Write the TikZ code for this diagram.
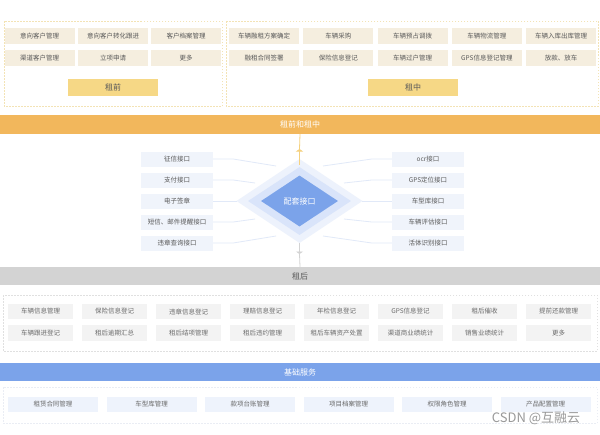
\documentclass[tikz,border=0pt]{standalone}
\usepackage{fontspec}
\setmainfont{Noto Sans CJK SC}
\usetikzlibrary{shapes.geometric,arrows.meta}
\definecolor{cellbeige}{HTML}{F5EEDF}
\definecolor{btnyellow}{HTML}{F6D886}
\definecolor{dashyellow}{HTML}{F3E3B5}
\definecolor{bandorange}{HTML}{F2B75C}
\definecolor{bandgray}{HTML}{D3D3D3}
\definecolor{cellgray}{HTML}{F3F3F3}
\definecolor{dashgray}{HTML}{E0E0E0}
\definecolor{bandblue}{HTML}{7BA3EA}
\definecolor{cellblue}{HTML}{EEF3FC}
\definecolor{ifaceblue}{HTML}{F0F4FB}
\definecolor{dmouter}{HTML}{EDF2FC}
\definecolor{dmmid}{HTML}{D9E4FA}
\definecolor{linkblue}{HTML}{E1E9F8}
\definecolor{textgray}{HTML}{595959}
\definecolor{textlight}{HTML}{6B6B6B}
\begin{document}
\begin{tikzpicture}[%
            x=1pt, y=-1pt,
            topcell/.style={shape=rectangle, inner sep=0pt, minimum width=70pt, minimum height=16pt,
                fill=cellbeige, text=textgray, font=\fontsize{6.5}{7}\selectfont},
            btn/.style={shape=rectangle, inner sep=0pt, minimum width=90pt, minimum height=17pt,
                fill=btnyellow, text=textgray, font=\fontsize{8}{9}\selectfont},
            band/.style={shape=rectangle, inner sep=0pt, minimum width=600pt, minimum height=19pt,
                fill=#1, text=white, font=\fontsize{8}{9}\selectfont},
            iface/.style={shape=rectangle, inner sep=0pt, minimum width=72pt, minimum height=15pt,
                fill=ifaceblue, text=textgray, font=\fontsize{6.5}{7}\selectfont},
            postcell/.style={shape=rectangle, inner sep=0pt, minimum width=65pt, minimum height=15.5pt,
                fill=cellgray, text=textlight, font=\fontsize{6.5}{7}\selectfont},
            basecell/.style={shape=rectangle, inner sep=0pt, minimum width=90pt, minimum height=15pt,
                fill=cellblue, text=textlight, font=\fontsize{6.5}{7}\selectfont},
            frame/.style={draw=#1, line width=0.6pt, dash pattern=on 1.5pt off 1.5pt},
            link/.style={draw=linkblue, line width=0.8pt},
            mydiamond/.style={shape=diamond, aspect=1.5, inner sep=0pt, fill=#1}
        ]
        \fill [white] (0,0) rectangle (600,434);
        \useasboundingbox (0,0) rectangle (600,434);

        % before the lease
        \draw [frame=dashyellow] (4,21) rectangle (222,106);
        \node [topcell] (a1) at (39.5,36) {意向客户管理};
        \node [topcell] (a2) at (113,36)  {意向客户转化跟进};
        \node [topcell] (a3) at (186,36)  {客户档案管理};
        \node [topcell] (a4) at (39.5,58) {渠道客户管理};
        \node [topcell] (a5) at (113,58)  {立项申请};
        \node [topcell] (a6) at (186,58)  {更多};
        \node [btn] (pre) at (113,87.5) {租前};

        % during the lease
        \draw [frame=dashyellow] (226,21) rectangle (598,106);
        \node [topcell] (b1)  at (264,36)   {车辆融租方案确定};
        \node [topcell] (b2)  at (338.3,36) {车辆采购};
        \node [topcell] (b3)  at (412.6,36) {车辆预占调拨};
        \node [topcell] (b4)  at (486.9,36) {车辆物流管理};
        \node [topcell] (b5)  at (561.2,36) {车辆入库出库管理};
        \node [topcell] (b6)  at (264,58)   {融租合同签署};
        \node [topcell] (b7)  at (338.3,58) {保险信息登记};
        \node [topcell] (b8)  at (412.6,58) {车辆过户管理};
        \node [topcell] (b9)  at (486.9,58) {GPS信息登记管理};
        \node [topcell] (b10) at (561.2,58) {放款、放车};
        \node [btn] (mid) at (413,87.5) {租中};

        \node [band=bandorange] (bandA) at (300,124.5) {租前和租中};

        % interfaces
        \node [mydiamond=dmouter, minimum width=126pt, minimum height=84pt] (dmo) at (299.5,201) {};
        \node [mydiamond=dmmid, minimum width=103pt, minimum height=68pt] (dmm) at (299.5,201) {};
        \node [mydiamond=bandblue, minimum width=77pt, minimum height=51pt, text=white,
               font=\fontsize{8}{9}\selectfont] (dmi) at (299.5,201) {配套接口};

        \node [iface] (l1) at (177,159) {征信接口};
        \node [iface] (l2) at (177,180) {支付接口};
        \node [iface] (l3) at (177,201) {电子签章};
        \node [iface] (l4) at (177,222) {短信、邮件提醒接口};
        \node [iface] (l5) at (177,243) {违章查询接口};
        \node [iface] (r1) at (428,159) {ocr接口};
        \node [iface] (r2) at (428,180) {GPS定位接口};
        \node [iface] (r3) at (428,201) {车型库接口};
        \node [iface] (r4) at (428,222) {车辆评估接口};
        \node [iface] (r5) at (428,243) {活体识别接口};

        \coordinate (l1end) at (276,166);
        \coordinate (l2end) at (255,183);
        \coordinate (l3end) at (237,201);
        \coordinate (l4end) at (255,219);
        \coordinate (l5end) at (276,236);
        \coordinate (r1end) at (323,166);
        \coordinate (r2end) at (344,183);
        \coordinate (r3end) at (362,201);
        \coordinate (r4end) at (344,219);
        \coordinate (r5end) at (323,236);

        \draw [link] (l1.east) -- ++(20,0) -- (l1end);
        \draw [link] (l2.east) -- ++(20,0) -- (l2end);
        \draw [link] (l3.east) -- (l3end);
        \draw [link] (l4.east) -- ++(20,0) -- (l4end);
        \draw [link] (l5.east) -- ++(20,0) -- (l5end);
        \draw [link] (r1.west) -- ++(-20,0) -- (r1end);
        \draw [link] (r2.west) -- ++(-20,0) -- (r2end);
        \draw [link] (r3.west) -- (r3end);
        \draw [link] (r4.west) -- ++(-20,0) -- (r4end);
        \draw [link] (r5.west) -- ++(-20,0) -- (r5end);

        \node [band=bandgray, text=textgray, minimum height=18pt] (bandB) at (300,276) {租后};

        \coordinate (tipUp) at (299.5,149);
        \coordinate (tipDown) at (299.5,254);
        \draw [draw=btnyellow!80!bandorange, line width=0.8pt] (dmo.north) -- ++(0,6);
        \draw [draw=btnyellow!80!bandorange, line width=0.8pt,
               -{Triangle[width=7pt,length=2.5pt]}] (dmo.north) -- (tipUp);
        \draw [draw=btnyellow!80!bandorange, line width=0.8pt] (tipUp) -- (bandA.south);
        \draw [draw=bandgray, line width=0.8pt,
               -{Triangle[width=7pt,length=2.5pt]}] (dmo.south) -- (tipDown);
        \draw [draw=bandgray, line width=0.8pt] (tipDown) -- (bandB.north);

        % after the lease
        \draw [frame=dashgray] (3,295) rectangle (597,351);
        \node [postcell] (c1)  at (40.5,311.5)  {车辆信息管理};
        \node [postcell] (c2)  at (114.5,311.5) {保险信息登记};
        \node [postcell] (c3)  at (188.5,311.5) {违章信息登记};
        \node [postcell] (c4)  at (262.5,311.5) {理赔信息登记};
        \node [postcell] (c5)  at (336.5,311.5) {年检信息登记};
        \node [postcell] (c6)  at (410.5,311.5) {GPS信息登记};
        \node [postcell] (c7)  at (484.5,311.5) {租后催收};
        \node [postcell] (c8)  at (558.5,311.5) {提前还款管理};
        \node [postcell] (c9)  at (40.5,333)    {车辆跟进登记};
        \node [postcell] (c10) at (114.5,333)   {租后逾期汇总};
        \node [postcell] (c11) at (188.5,333)   {租后结项管理};
        \node [postcell] (c12) at (262.5,333)   {租后违约管理};
        \node [postcell] (c13) at (336.5,333)   {租后车辆资产处置};
        \node [postcell] (c14) at (410.5,333)   {渠道商业绩统计};
        \node [postcell] (c15) at (484.5,333)   {销售业绩统计};
        \node [postcell] (c16) at (558.5,333)   {更多};

        % base services
        \node [band=bandblue, minimum height=18pt] (bandC) at (300,372) {基础服务};
        \draw [frame=cellblue!70!dashgray] (3,387) rectangle (597,423);
        \node [basecell] (d1) at (53,404.5)    {租赁合同管理};
        \node [basecell] (d2) at (151.5,404.5) {车型库管理};
        \node [basecell] (d3) at (250,404.5)   {款项台账管理};
        \node [basecell] (d4) at (348.5,404.5) {项目档案管理};
        \node [basecell] (d5) at (447,404.5)   {权限角色管理};
        \node [basecell] (d6) at (545.5,404.5) {产品配置管理};

        \node [text=black!40, font=\fontsize{13}{14}\selectfont, inner sep=0pt] (mark) at (536,418) {CSDN @互融云};
    \end{tikzpicture}
\end{document}
